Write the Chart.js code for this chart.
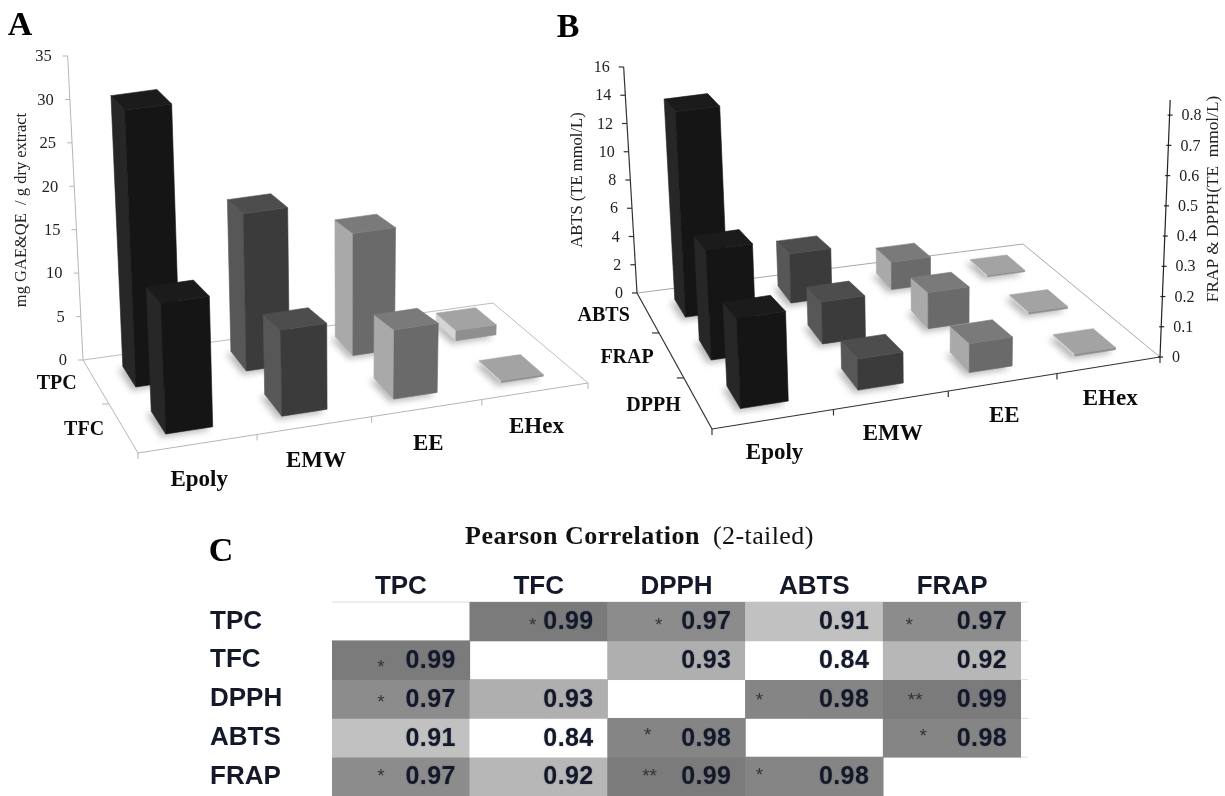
<!DOCTYPE html>
<html>
<head>
<meta charset="utf-8">
<title>Antioxidant assays</title>
<script src="https://cdn.jsdelivr.net/npm/chart.js@4/dist/chart.umd.min.js"></script>
<style>
  html, body { margin: 0; background: #fff; }
  body { width: 1225px; height: 796px; position: relative; overflow: hidden; }
  canvas { position: absolute; left: 0; top: 0; filter: blur(0.6px); }
</style>
</head>
<body>
<canvas id="chartA" width="1225" height="796"></canvas>
<canvas id="chartB" width="1225" height="796"></canvas>
<canvas id="chartC" width="1225" height="796"></canvas>
<script>
// panel A + B categories
const extracts = ['Epoly', 'EMW', 'EE', 'EHex'];

// panel A (mg GAE&QE / g dry extract)
const seriesA = ['TPC', 'TFC'];
const tpcValues = [31.3, 18.1, 14.3, 1.2];
const tfcValues = [14.0, 9.4, 7.7, 0.2];

// panel B
const seriesB = ['ABTS', 'FRAP', 'DPPH'];
const abtsValues = [14.3, 3.5, 2.0, 0.11];
const frapValues = [0.363, 0.142, 0.125, 0.007];
const dpphValues = [0.279, 0.099, 0.095, 0.007];

// panel C
const assays = ['TPC', 'TFC', 'DPPH', 'ABTS', 'FRAP'];
const corrTPC = [null, 0.99, 0.97, 0.91, 0.97];
const corrTFC = [0.99, null, 0.93, 0.84, 0.92];
const corrDPPH = [0.97, 0.93, null, 0.98, 0.99];
const corrABTS = [0.91, 0.84, 0.98, null, 0.98];
const corrFRAP = [0.97, 0.92, 0.99, 0.98, null];
const starsTPC = ['', '*', '*', '', '*'];
const starsTFC = ['*', '', '', '', ''];
const starsDPPH = ['*', '', '', '*', '**'];
const starsABTS = ['', '', '*', '', '*'];
const starsFRAP = ['*', '', '**', '*', ''];

// ---- styles and layout below, no data ----
const SERIF = '"Liberation Serif"';
const SANS = '"Liberation Sans"';
const topFace = ['#1b1b1b', '#4d4d4d', '#7a7a7a', '#a3a3a3'];
const frontFace = ['#151515', '#3b3b3b', '#6a6a6a', '#8f8f8f'];
const sideFace = ['#272727', '#575757', '#a9a9a9', '#d4d4d4'];
const corrShades = { 0.99: '#7b7b7b', 0.98: '#858585', 0.97: '#8c8c8c', 0.93: '#afafaf', 0.92: '#b7b7b7', 0.91: '#c1c1c1', 0.84: '#ffffff' };
// star placement in a cell: column-left offset, row-centre offset
const starSpots = {
  '0,1': [63, 0], '0,2': [51, 0], '0,4': [26, 0],
  '1,0': [49, 4],
  '2,0': [49, 0], '2,3': [14, -2], '2,4': [32, -2],
  '3,2': [40, -6], '3,4': [40, -5],
  '4,0': [49, -4], '4,2': [42, -4], '4,3': [14, -5]
};

function putText(ctx, str, x, y, font, color, align, rotate, spacing) {
  ctx.save();
  ctx.translate(x, y);
  if (rotate) ctx.rotate(rotate);
  ctx.font = font;
  ctx.fillStyle = color;
  ctx.textAlign = align || 'center';
  ctx.textBaseline = 'middle';
  ctx.letterSpacing = spacing || '0px';
  ctx.fillText(str, 0, 0);
  ctx.restore();
}

// homography from the unit square (u along extracts, v back to front) to the floor
function makeFloor(c) {
  const [p0, p1, p2, p3] = c;
  const dx1 = p1[0] - p2[0], dx2 = p3[0] - p2[0], sx = p0[0] - p1[0] + p2[0] - p3[0];
  const dy1 = p1[1] - p2[1], dy2 = p3[1] - p2[1], sy = p0[1] - p1[1] + p2[1] - p3[1];
  const den = dx1 * dy2 - dx2 * dy1;
  const g = (sx * dy2 - dx2 * sy) / den;
  const h = (dx1 * sy - sx * dy1) / den;
  const a = p1[0] - p0[0] + g * p1[0], b = p3[0] - p0[0] + h * p3[0];
  const d = p1[1] - p0[1] + g * p1[1], e = p3[1] - p0[1] + h * p3[1];
  return {
    at(u, v) {
      const w = g * u + h * v + 1;
      return { x: (a * u + b * v + p0[0]) / w, y: (d * u + e * v + p0[1]) / w };
    },
    scale(u, v) { return 1 / (g * u + h * v + 1); }
  };
}

function poly(ctx, pts, fill) {
  ctx.beginPath();
  pts.forEach((p, i) => i ? ctx.lineTo(p.x, p.y) : ctx.moveTo(p.x, p.y));
  ctx.closePath();
  ctx.fillStyle = fill;
  ctx.strokeStyle = fill;
  ctx.lineWidth = 0.6;
  ctx.fill();
  ctx.stroke();
}

function seg(ctx, a, b, color, w) {
  ctx.beginPath();
  ctx.moveTo(a.x, a.y);
  ctx.lineTo(b.x, b.y);
  ctx.strokeStyle = color;
  ctx.lineWidth = w;
  ctx.stroke();
}

const scene3d = {
  id: 'scene3d',
  afterDatasetsDraw(chart, args, o) {
    const ctx = chart.ctx, area = chart.chartArea;
    const floor = makeFloor(o.corners);
    const raise = (p, px) => ({ x: p.x + (p.x - o.vanishX) * px / 5300, y: p.y - px });
    const xs = chart.scales.x, zs = chart.scales.depth;
    const uOf = px => (px - area.left) / area.width;
    const vOf = px => (px - area.top) / area.height;
    const nCat = xs.getLabels().length, nSer = zs.getLabels().length;

    // floor outline and its ticks
    seg(ctx, floor.at(0, 0), floor.at(1, 0), o.farEdge, 1);
    seg(ctx, floor.at(1, 0), floor.at(1, 1), o.farEdge, 1);
    seg(ctx, floor.at(0, 0), floor.at(0, 1), o.nearEdge, o.nearWidth);
    seg(ctx, floor.at(0, 1), floor.at(1, 1), o.nearEdge, o.nearWidth);
    for (let i = 0; i <= nCat; i++) {
      const p = floor.at(i / nCat, 1);
      seg(ctx, p, { x: p.x, y: p.y + 6 }, o.nearEdge, o.nearWidth);
    }
    for (let i = 1; i < nSer; i++) {
      const p = floor.at(0, i / nSer);
      seg(ctx, p, { x: p.x - 7, y: p.y }, o.nearEdge, o.nearWidth);
    }

    // work out every prism from the bar elements and the library's scales
    const prisms = [];
    chart.data.datasets.forEach((ds, di) => {
      const meta = chart.getDatasetMeta(di);
      const axis = o.axes.find(a => a.id === ds.yAxisID);
      const v = vOf(zs.getPixelForValue(di));
      const dv = o.depthShare / nSer;
      meta.data.forEach((bar, i) => {
        const u = uOf(bar.x), du = bar.width / area.width;
        const frac = (bar.base - bar.y) / area.height;
        const px = frac * axis.height * floor.scale(u, v) / floor.scale(axis.u, axis.v);
        const bl = floor.at(u - du / 2, v - dv / 2), br = floor.at(u + du / 2, v - dv / 2);
        const fr = floor.at(u + du / 2, v + dv / 2), fl = floor.at(u - du / 2, v + dv / 2);
        prisms.push({ i, px, bl, br, fr, fl });
      });
    });

    // soft shadows on the floor
    ctx.save();
    ctx.filter = 'blur(3px)';
    prisms.forEach(b => {
      poly(ctx, [b.bl, b.br, b.fr, b.fl].map(p => ({ x: p.x - 4, y: p.y + 3 })), '#b8b8b8');
    });
    ctx.restore();

    prisms.forEach(b => {
      // the top of a tall bar looks flatter than its footprint
      const squash = Math.max(0.72, 1 - b.px / 200);
      const tfr = raise(b.fr, b.px), tfl = raise(b.fl, b.px);
      const tbl = raise(b.bl, b.px), tbr = raise(b.br, b.px);
      tbl.y = tfl.y + (tbl.y - tfl.y) * squash;
      tbr.y = tfr.y + (tbr.y - tfr.y) * squash;
      poly(ctx, [b.bl, b.fl, tfl, tbl], sideFace[b.i]);
      poly(ctx, [b.fl, b.fr, tfr, tfl], frontFace[b.i]);
      poly(ctx, [tbl, tbr, tfr, tfl], topFace[b.i]);
    });

    // slanted value axes, ticks come from the scale
    o.axes.forEach(a => {
      const sc = chart.scales[a.id];
      const foot = floor.at(a.u, a.v);
      const dir = a.side === 'left' ? -1 : 1;
      seg(ctx, foot, raise(foot, a.height), a.color, a.lineWidth);
      sc.ticks.forEach(t => {
        if (t.value > a.lastLabel) return;
        const p = raise(foot, a.height * t.value / sc.max);
        if (dir < 0) seg(ctx, p, { x: p.x - 5, y: p.y }, a.color, a.lineWidth);
        else seg(ctx, { x: p.x - 2, y: p.y }, { x: p.x + 3, y: p.y }, a.color, a.lineWidth);
        const label = a.side === 'left' ? String(t.value) : (t.value === 0 ? '0' : t.value.toFixed(1));
        putText(ctx, label, p.x + dir * a.labelGap, p.y + 1, a.tickSize + 'px ' + SERIF, '#222', dir < 0 ? 'right' : 'left');
      });
      putText(ctx, a.title, a.titleX, a.titleY, a.titleSize + 'px ' + SERIF, '#222', 'center', -Math.PI / 2);
    });

    // category and series names sit off the floor edges
    const catFont = 'bold 23px ' + SERIF, serFont = 'bold 20px ' + SERIF;
    extracts.forEach((name, i) => {
      const p = floor.at(uOf(xs.getPixelForValue(i)), 1);
      putText(ctx, name, p.x + o.catOffset[0], p.y + o.catOffset[1], catFont, '#0c0c0c');
    });
    zs.getLabels().forEach((name, i) => {
      const p = floor.at(0, vOf(zs.getPixelForValue(i)));
      putText(ctx, name, p.x + o.serOffset[0], p.y + o.serOffset[1], serFont, '#0c0c0c');
    });

    putText(ctx, o.letter, o.letterAt[0], o.letterAt[1], 'bold 34px ' + SERIF, '#000');
  }
};

function hiddenScale(max, step) {
  return { type: 'linear', display: false, min: 0, max: max, ticks: { stepSize: step } };
}

function barSet(label, values, axisId) {
  return {
    label: label, data: values, yAxisID: axisId, xAxisID: 'x', grouped: false,
    backgroundColor: 'rgba(0,0,0,0)', categoryPercentage: 1, barPercentage: 0.4
  };
}

function baseOptions() {
  return {
    responsive: false,
    animation: false,
    layout: { padding: 0 },
    plugins: { legend: { display: false }, tooltip: { enabled: false } }
  };
}

const optionsA = baseOptions();
optionsA.scales = {
  x: { type: 'category', display: false },
  y: hiddenScale(35, 5),
  depth: { type: 'category', axis: 'y', position: 'left', display: false, labels: seriesA, offset: true }
};
optionsA.plugins.scene3d = {
  corners: [[83, 360], [493, 303], [588, 383], [138, 453]],
  vanishX: 350,
  farEdge: '#bdbdbd', nearEdge: '#b5b5b5', nearWidth: 1,
  depthShare: 0.47,
  catOffset: [1, 36], serOffset: [-39, 2.5],
  letter: 'A', letterAt: [20, 26],
  axes: [{
    id: 'y', u: 0, v: 0, side: 'left', height: 304, lastLabel: 35, color: '#b5b5b5', lineWidth: 1,
    labelGap: 16, tickSize: 16.5, titleSize: 16.5,
    title: 'mg GAE&QE  / g dry extract', titleX: 22, titleY: 210
  }]
};
new Chart(document.getElementById('chartA'), {
  type: 'bar',
  data: { labels: extracts, datasets: [barSet('TPC', tpcValues, 'y'), barSet('TFC', tfcValues, 'y')] },
  options: optionsA,
  plugins: [scene3d]
});

const optionsB = baseOptions();
optionsB.scales = {
  x: { type: 'category', display: false },
  y: hiddenScale(16, 2),
  y1: hiddenScale(0.85, 0.1),
  depth: { type: 'category', axis: 'y', position: 'left', display: false, labels: seriesB, offset: true }
};
optionsB.plugins.scene3d = {
  corners: [[637, 293], [1023, 244], [1160, 357], [712, 429]],
  vanishX: 950,
  farEdge: '#a8a8a8', nearEdge: '#333333', nearWidth: 1.2,
  depthShare: 0.45,
  catOffset: [1, 34], serOffset: [-44, 3],
  letter: 'B', letterAt: [568, 28],
  axes: [
    { id: 'y', u: 0, v: 0, side: 'left', height: 226, lastLabel: 16, color: '#333333', lineWidth: 1.2,
      labelGap: 14, tickSize: 16, titleSize: 16.6,
      title: 'ABTS (TE mmol/L)', titleX: 578, titleY: 180 },
    { id: 'y1', u: 1, v: 1, side: 'right', height: 257, lastLabel: 0.8, color: '#222222', lineWidth: 1.2,
      labelGap: 12, tickSize: 16, titleSize: 17.3,
      title: 'FRAP & DPPH(TE  mmol/L)', titleX: 1213, titleY: 199 }
  ]
};
new Chart(document.getElementById('chartB'), {
  type: 'bar',
  data: {
    labels: extracts,
    datasets: [barSet('ABTS', abtsValues, 'y'), barSet('FRAP', frapValues, 'y1'), barSet('DPPH', dpphValues, 'y1')]
  },
  options: optionsB,
  plugins: [scene3d]
});

// panel C: one floating-bar dataset per row of the matrix
const corrRows = [corrTPC, corrTFC, corrDPPH, corrABTS, corrFRAP];
const starRows = [starsTPC, starsTFC, starsDPPH, starsABTS, starsFRAP];
const INK = '#14192a';

const matrixText = {
  id: 'matrixText',
  beforeDatasetsDraw(chart) {
    const ctx = chart.ctx, area = chart.chartArea, ys = chart.scales.y;
    for (let r = 0; r <= assays.length - 1; r++) {
      const y = ys.getPixelForValue(r);
      seg(ctx, { x: area.left, y: y }, { x: area.right + 7, y: y }, '#dedede', 1);
    }
  },
  afterDatasetsDraw(chart) {
    const ctx = chart.ctx;
    corrRows.forEach((row, r) => {
      const meta = chart.getDatasetMeta(r);
      row.forEach((val, c) => {
        if (val === null) return;
        const bar = meta.data[c];
        const right = bar.x + bar.width / 2, left = bar.x - bar.width / 2, mid = (bar.y + bar.base) / 2;
        ctx.save();
        ctx.shadowColor = 'rgba(40,50,80,0.45)';
        ctx.shadowBlur = 1.5;
        putText(ctx, val.toFixed(2), right - 14, mid + 1, 'bold 25px ' + SANS, INK, 'right', 0, '0.4px');
        ctx.restore();
        const star = starRows[r][c];
        if (star) {
          const spot = starSpots[r + ',' + c];
          putText(ctx, star, left + spot[0], mid + spot[1] + 4, '19px ' + SANS, '#333', 'center');
        }
      });
    });
    putText(ctx, 'C', 221, 552, 'bold 34px ' + SERIF, '#000');
    putText(ctx, 'Pearson Correlation', 465, 537, 'bold 26px ' + SERIF, '#111', 'left', 0, '0.5px');
    putText(ctx, '(2-tailed)', 713, 537, '26px ' + SERIF, '#111', 'left', 0, '0.4px');
  }
};

new Chart(document.getElementById('chartC'), {
  type: 'bar',
  data: {
    labels: assays,
    datasets: corrRows.map((row, r) => ({
      label: assays[r],
      data: row.map(v => v === null ? null : [r, r + 1]),
      xAxisID: 'x',
      yAxisID: 'y',
      grouped: false,
      categoryPercentage: 1,
      barPercentage: 1,
      borderWidth: 0,
      backgroundColor: row.map(v => v === null ? '#ffffff' : corrShades[v])
    }))
  },
  options: Object.assign(baseOptions(), {
    layout: { padding: { left: 210, right: 204, top: 0, bottom: 0 } },
    scales: {
      x: {
        type: 'category', position: 'top',
        grid: { display: false, drawTicks: false }, border: { display: false },
        ticks: { font: { family: 'Liberation Sans', size: 26, weight: 'bold' }, color: INK, padding: 0, maxRotation: 0, autoSkip: false },
        afterFit(s) { s.height = 602; s.paddingLeft = 0; s.paddingRight = 0; }
      },
      y: { type: 'linear', reverse: true, display: false, min: 0, max: assays.length },
      rowAxis: {
        type: 'category', axis: 'y', position: 'left', labels: assays, offset: true,
        grid: { display: false, drawTicks: false }, border: { display: false },
        ticks: { font: { family: 'Liberation Sans', size: 26, weight: 'bold' }, color: INK, crossAlign: 'far', padding: 0, autoSkip: false },
        afterFit(s) { s.width = 122; s.paddingTop = 0; s.paddingBottom = 0; }
      }
    }
  }),
  plugins: [matrixText]
});
</script>
</body>
</html>
